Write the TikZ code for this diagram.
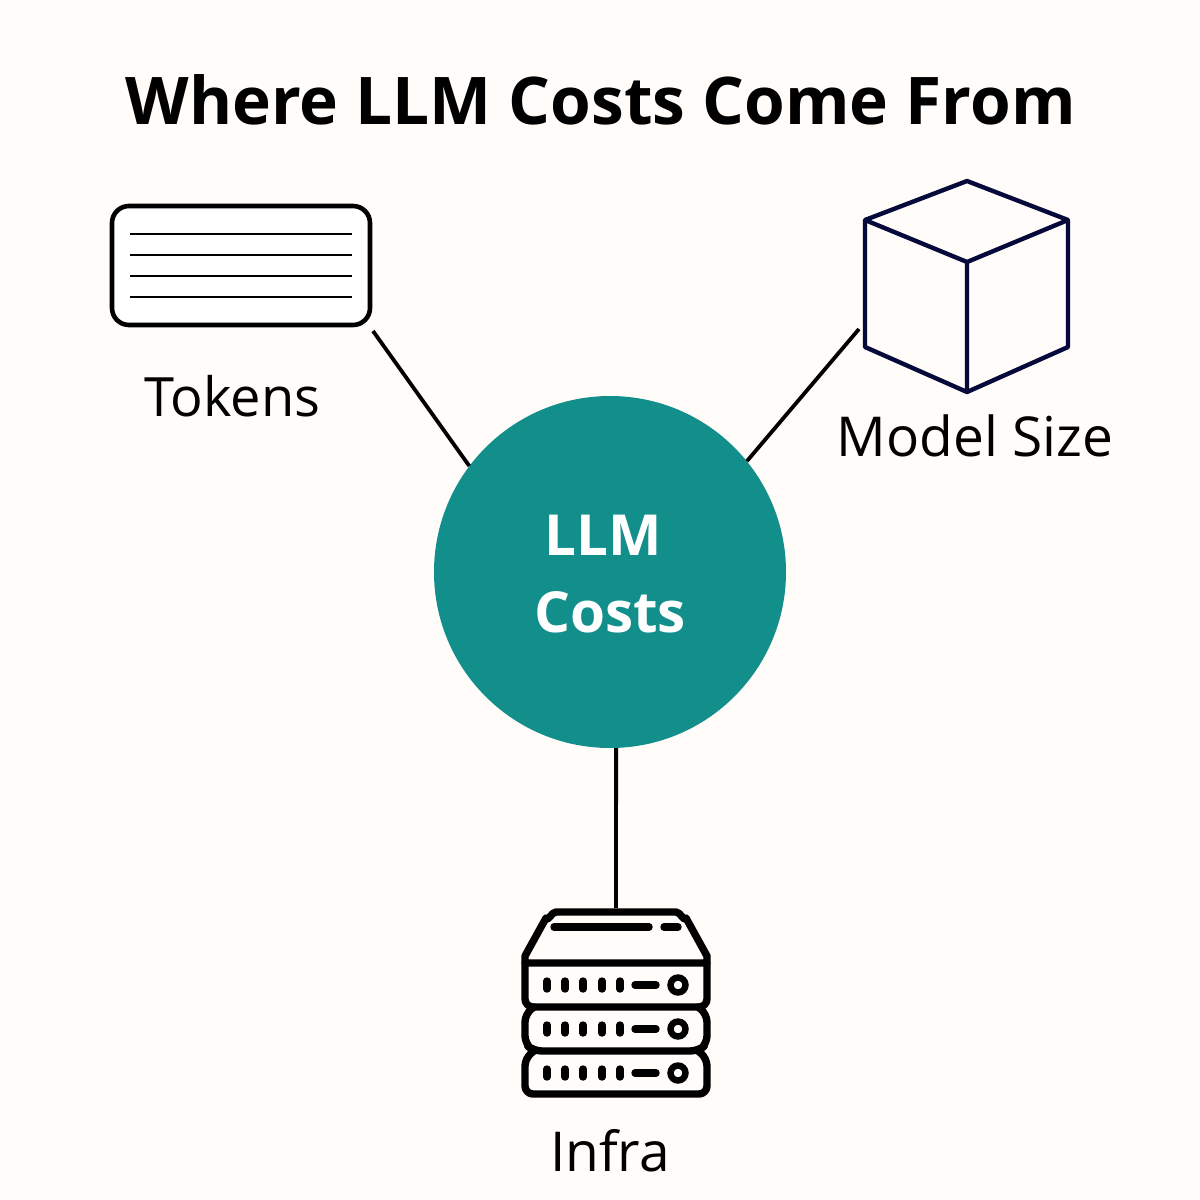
\documentclass[tikz,border=0pt]{standalone}
\usepackage{fontspec}
\setmainfont{Open Sans}
\definecolor{paper}{HTML}{FFFCF9}
\definecolor{teal}{HTML}{128F8B}
\definecolor{navy}{HTML}{050A3A}
\tikzset{
  titletext/.style={anchor=base,inner sep=0pt,font=\fontsize{65.75}{70}\selectfont\bfseries},
  labeltext/.style={anchor=base,inner sep=0pt,font=\fontsize{55}{58}\selectfont},
  hubtext/.style={anchor=base,inner sep=0pt,text=white,font=\fontsize{56.6}{60}\selectfont\bfseries},
  link/.style={draw=black,line width=3.8pt},
  edge/.style={draw=navy,line width=4.4pt,line join=round},
  srv/.style={draw=black,line width=7.4pt,line join=round,line cap=round},
}
\begin{document}
\begin{tikzpicture}[x=1pt,y=-1pt]
\useasboundingbox (0,0) rectangle (1200,1200);
\fill[paper] (0,0) rectangle (1200,1200);
\node[titletext] (title) at (600.5,124) {Where LLM Costs Come From};
% hub
\node[circle,fill=teal,minimum size=352pt,inner sep=0pt] (hub) at (610,572) {};
\node[hubtext] (hubA) at (603,555) {LLM};
\node[hubtext] (hubB) at (610,632) {Costs};
% tokens
\node[draw=black,fill=white,line width=4.6pt,rounded corners=17pt,minimum width=258pt,minimum height=119pt,inner sep=0pt] (tok) at (241,265.5) {};
\foreach \y in {234,255,276,297}{\draw[black,line width=1.5pt] (130,\y) -- (352,\y);}
\node[labeltext,font=\fontsize{54.2}{58}\selectfont] (tokl) at (232.5,416) {Tokens};
% cube
\coordinate (ct) at (967,181);
\coordinate (cl) at (865,220);
\coordinate (cr) at (1068,220);
\coordinate (cc) at (967,262);
\coordinate (cb) at (967,392);
\coordinate (cbl) at (865,347);
\coordinate (cbr) at (1068,347);
\draw[edge] (ct) -- (cr) -- (cbr) -- (cb) -- (cbl) -- (cl) -- cycle;
\draw[edge] (cl) -- (cc) -- (cr) (cc) -- (cb);
\node[labeltext] (cubel) at (975,456) {Model Size};
% server
\draw[srv,fill=paper] (556,912) -- (676,912) to[out=0,in=-120] (686,918) -- (707,956) -- (707,963) -- (525,963) -- (525,956) -- (546,918) to[out=-60,in=180] (556,912) -- cycle;
\draw[srv,rounded corners=8pt] (525,963) -- (525,1007) -- (707,1007) -- (707,963);
\draw[srv,rounded corners=8pt] (534,1007) -- (525,1014) -- (525,1044) -- (534,1051) -- (698,1051) -- (707,1044) -- (707,1014) -- (698,1007);
\draw[srv,rounded corners=8pt] (534,1051) -- (525,1058) -- (525,1094) -- (707,1094) -- (707,1058) -- (698,1051);
\draw[srv] (554,927) -- (649,927) (664,927) -- (678,927);
\foreach \y in {985,1029,1073}{
  \foreach \x in {547,565,583,602,620}{\draw[srv] (\x,\y-4) -- (\x,\y+4);}
  \draw[srv] (635,\y) -- (656,\y);
  \draw[black,line width=6.4pt] (678,\y) circle[radius=7.5pt];
}
\node[labeltext] (srvl) at (610,1171) {Infra};
% anchors of connectors
\coordinate (tokEnd) at (373,331);
\coordinate (cubeEnd) at (859,329);
\coordinate (srvEnd) at (616,908);
\draw[link] (hub.143.5) -- (tokEnd);
\draw[link] (hub.39.7) -- (cubeEnd);
\draw[link] (hub.-88) -- (srvEnd);
\end{tikzpicture}
\end{document}
